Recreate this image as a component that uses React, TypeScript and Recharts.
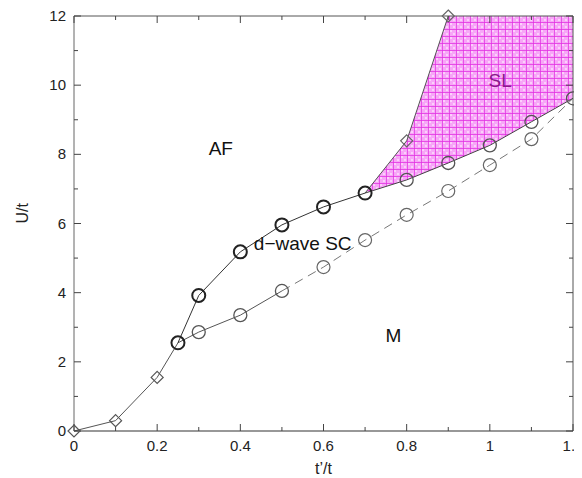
import React from 'react';
import { ComposedChart, Line, Area, XAxis, YAxis, ReferenceDot } from 'recharts';

// AF boundary (low U, diamonds)
const afLowX = [0, 0.1, 0.2, 0.25];
const afLowY = [0, 0.3, 1.55, 2.55];
// AF / d-wave SC boundary (bold circles)
const afScX = [0.25, 0.3, 0.4, 0.5, 0.6, 0.7];
const afScY = [2.55, 3.92, 5.18, 5.96, 6.48, 6.88];
// AF / SL boundary (diamonds)
const afSlX = [0.7, 0.8, 0.9];
const afSlY = [6.88, 8.39, 12];
// SL / SC lower boundary (circles)
const slLowX = [0.7, 0.8, 0.9, 1.0, 1.1, 1.2];
const slLowY = [6.88, 7.26, 7.75, 8.26, 8.94, 9.62];
// SC / M boundary solid part
const scMX = [0.25, 0.3, 0.4, 0.5];
const scMY = [2.55, 2.86, 3.35, 4.05];
// SC / M boundary dashed part
const scMDashX = [0.5, 0.6, 0.7, 0.8, 0.9, 1.0, 1.1, 1.2];
const scMDashY = [4.05, 4.74, 5.52, 6.25, 6.94, 7.69, 8.44, 9.62];

const xTicks = [0, 0.1, 0.2, 0.3, 0.4, 0.5, 0.6, 0.7, 0.8, 0.9, 1.0, 1.1, 1.2];
const yTicks = [0, 1, 2, 3, 4, 5, 6, 7, 8, 9, 10, 11, 12];
const X_MIN = 0;
const X_MAX = 1.2;
const Y_MIN = 0;
const Y_MAX = 12;
const xLabelText = 't’/t';
const yLabelText = 'U/t';

const regionLabels = [
  { x: 0.353, y: 8.18, text: 'AF', color: '#111' },
  { x: 0.55, y: 5.43, text: 'd−wave SC', color: '#111' },
  { x: 1.025, y: 10.14, text: 'SL', color: '#8a1a8a' },
  { x: 0.768, y: 2.77, text: 'M', color: '#111' },
];

const toPts = (xs: number[], ys: number[]) => xs.map((x, i) => ({ x, y: ys[i] }));

const slArea = slLowX.map((x, i) => {
  const j = afSlX.indexOf(x);
  const hi = j >= 0 ? afSlY[j] : Y_MAX;
  return { x, range: [slLowY[i], hi] };
});

// frame (top and right edges) and tick anchor points on the four edges
const frameTopRight = [
  { x: X_MIN, y: Y_MAX },
  { x: X_MAX, y: Y_MAX },
  { x: X_MAX, y: Y_MIN },
];
const topTickPts = xTicks.map((x) => ({ x, y: Y_MAX }));
const bottomTickPts = xTicks.map((x) => ({ x, y: Y_MIN }));
const leftTickPts = yTicks.map((y) => ({ x: X_MIN, y }));
const rightTickPts = yTicks.map((y) => ({ x: X_MAX, y }));

const FONT = '"Liberation Sans", Arial, Helvetica, sans-serif';
const TICK_C = '#444';

const isMajorX = (v: number) => Math.round(v * 10) % 2 === 0;
const isMajorY = (v: number) => Math.round(v) % 2 === 0;
const fmtX = (v: number) => String(Math.round(v * 10) / 10);

const LeftTickLabel = (p: any) => {
  const v = p.payload.value;
  if (!isMajorY(v)) return <g />;
  return (
    <text x={p.x - 8} y={p.y} dy={5} textAnchor="end" fontSize={15} fill="#222" fontFamily={FONT}>
      {v}
    </text>
  );
};
const BottomTickLabel = (p: any) => {
  const v = p.payload.value;
  if (!isMajorX(v)) return <g />;
  return (
    <text x={p.x} y={p.y + 20} textAnchor="middle" fontSize={15} fill="#222" fontFamily={FONT}>
      {fmtX(v)}
    </text>
  );
};

// tick marks drawn as dots of invisible series, pointing inward
const vTick = (dir: number) => (p: any) => {
  const len = isMajorX(p.payload.x) ? 7 : 4;
  return <path key={`vt${dir}${p.index}`} d={`M${p.cx},${p.cy} L${p.cx},${p.cy + dir * len}`} stroke={TICK_C} strokeWidth={1} fill="none" />;
};
const hTick = (dir: number) => (p: any) => {
  const len = isMajorY(p.payload.y) ? 7 : 4;
  return <path key={`ht${dir}${p.index}`} d={`M${p.cx},${p.cy} L${p.cx + dir * len},${p.cy}`} stroke={TICK_C} strokeWidth={1} fill="none" />;
};

const diamond = (stroke: string, skip: number[]) => (p: any) => {
  if (skip.includes(p.index)) return <g key={`d${p.index}`} />;
  const r = 6;
  return (
    <path
      key={`d${p.index}`}
      d={`M${p.cx},${p.cy - r} L${p.cx + r},${p.cy} L${p.cx},${p.cy + r} L${p.cx - r},${p.cy} Z`}
      fill="none"
      stroke={stroke}
      strokeWidth={1.2}
    />
  );
};
const ring = (stroke: string, width: number, skip: number[]) => (p: any) => {
  if (skip.includes(p.index)) return <g key={`c${p.index}`} />;
  return <circle key={`c${p.index}`} cx={p.cx} cy={p.cy} r={6.5} fill="none" stroke={stroke} strokeWidth={width} />;
};

export default function App() {
  return (
    <ComposedChart width={574} height={470} margin={{ top: 8, right: 9, left: 0, bottom: 0 }}>
      <defs>
        <pattern id="slPat" width={7} height={7} patternUnits="userSpaceOnUse">
          <rect width={7} height={7} fill="#f7a6f7" />
          <rect x={1} y={1} width={2} height={2} fill="#fbd0fb" />
          <rect x={4} y={4} width={2} height={2} fill="#fbd0fb" />
          <path d="M0,0 L7,0 M0,0 L0,7" stroke="#e22ee2" strokeWidth={1.4} />
        </pattern>
      </defs>
      <XAxis
        dataKey="x"
        type="number"
        domain={[X_MIN, X_MAX]}
        ticks={xTicks}
        interval={0}
        height={47}
        tickSize={0}
        tickMargin={0}
        tickLine={false}
        axisLine={{ stroke: '#333', strokeWidth: 1.2 }}
        tick={BottomTickLabel}
        label={{ value: xLabelText, position: 'insideBottom', offset: 4, fontSize: 16, fill: '#222', fontFamily: FONT }}
      />
      <YAxis
        type="number"
        domain={[Y_MIN, Y_MAX]}
        ticks={yTicks}
        interval={0}
        width={66}
        tickSize={0}
        tickMargin={0}
        tickLine={false}
        axisLine={{ stroke: '#666', strokeWidth: 1 }}
        tick={LeftTickLabel}
        label={{ value: yLabelText, angle: -90, position: 'insideLeft', offset: 14, fontSize: 16, fill: '#222', fontFamily: FONT }}
      />
      <Area
        data={slArea}
        dataKey="range"
        type="linear"
        fill="url(#slPat)"
        fillOpacity={1}
        stroke="none"
        isAnimationActive={false}
        dot={false}
        activeDot={false}
      />
      <Line data={frameTopRight} dataKey="y" type="linear" stroke="#555" strokeWidth={1} dot={false} activeDot={false} isAnimationActive={false} />
      <Line data={topTickPts} dataKey="y" stroke="none" dot={vTick(1)} activeDot={false} isAnimationActive={false} />
      <Line data={bottomTickPts} dataKey="y" stroke="none" dot={vTick(-1)} activeDot={false} isAnimationActive={false} />
      <Line data={leftTickPts} dataKey="y" stroke="none" dot={hTick(1)} activeDot={false} isAnimationActive={false} />
      <Line data={rightTickPts} dataKey="y" stroke="none" dot={hTick(-1)} activeDot={false} isAnimationActive={false} />
      <Line data={toPts(scMDashX, scMDashY)} dataKey="y" type="linear" stroke="#777" strokeWidth={1} strokeDasharray="9 6" dot={ring('#666', 1.2, [0, 7])} activeDot={false} isAnimationActive={false} />
      <Line data={toPts(scMX, scMY)} dataKey="y" type="linear" stroke="#555" strokeWidth={1} dot={ring('#555', 1.3, [0])} activeDot={false} isAnimationActive={false} />
      <Line data={toPts(afLowX, afLowY)} dataKey="y" type="linear" stroke="#555" strokeWidth={1} dot={diamond('#555', [3])} activeDot={false} isAnimationActive={false} />
      <Line data={toPts(afSlX, afSlY)} dataKey="y" type="linear" stroke="#555" strokeWidth={1} dot={diamond('#666', [0])} activeDot={false} isAnimationActive={false} />
      <Line data={toPts(slLowX, slLowY)} dataKey="y" type="linear" stroke="#444" strokeWidth={1} dot={ring('#555', 1.3, [0])} activeDot={false} isAnimationActive={false} />
      <Line data={toPts(afScX, afScY)} dataKey="y" type="linear" stroke="#333" strokeWidth={1} dot={ring('#222', 2, [])} activeDot={false} isAnimationActive={false} />
      {regionLabels.map((l) => (
        <ReferenceDot
          key={l.text}
          x={l.x}
          y={l.y}
          r={0}
          ifOverflow="visible"
          shape={(p: any) => (
            <text x={p.cx} y={p.cy} dy={7} textAnchor="middle" fontSize={19} fill={l.color} fontFamily={FONT}>
              {l.text}
            </text>
          )}
        />
      ))}
    </ComposedChart>
  );
}
